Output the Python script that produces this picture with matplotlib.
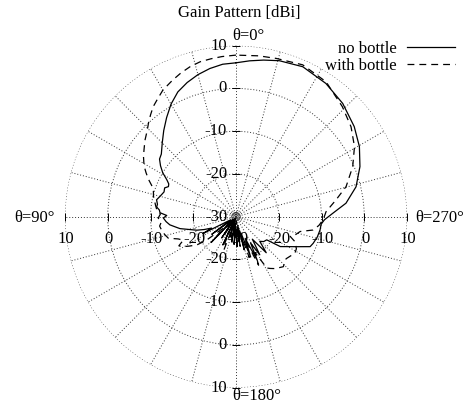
import numpy as np
import matplotlib
matplotlib.use("Agg")
import matplotlib.pyplot as plt
from matplotlib.transforms import offset_copy

plt.rcParams['font.family'] = ['Liberation Serif', 'DejaVu Serif']
plt.rcParams['font.size'] = 12

# ---- data (theta in degrees, counter-clockwise from top; gain in dBi) ----
theta_no = [0, 5, 10, 15, 20, 25, 30, 35, 40, 45, 50, 53, 56, 59, 62, 64, 66, 68, 71, 75,
            78, 81, 83, 85, 87, 89, 91, 94, 97, 100, 102, 105, 109, 112, 115, 117, 120,
            126, 130, 136, 139, 146, 150, 155, 158, 163, 166, 170, 173, 176, 179, 182,
            185, 188, 191, 194, 197, 200, 203, 206, 209, 212, 216, 220, 224, 228, 233,
            236, 240, 244, 248, 251, 256, 261, 265, 268, 272, 277, 284, 292, 299.6,
            307.3, 316.7, 326, 336, 344.5, 350, 355, 360]
gain_no = [6.0, 5.8, 5.2, 4.4, 3.4, 2.2, 0.4, -1.7, -3.7, -5.6, -7.2, -7.6, -8.7, -10.0,
           -11.7, -12.5, -12.7, -12.0, -12.2, -11.6, -11.0, -11.4, -11.3, -12.0, -12.2,
           -13.8, -13.0, -13.6, -14.4, -15.8, -16.6, -18.5, -20.3, -22.0, -23.7, -21.3,
           -28.5, -23.0, -29.0, -21.6, -29.0, -24.0, -29.5, -22.7, -29.0, -25.0, -29.5,
           -24.0, -28.0, -23.5, -27.0, -23.0, -27.5, -24.0, -28.0, -22.0, -26.0, -20.0,
           -24.5, -18.6, -23.0, -19.5, -23.5, -19.0, -22.0, -21.3, -21.0, -17.5, -16.0,
           -14.0, -11.3, -10.9, -10.4, -10.1, -10.0, -9.3, -7.36, -4.08, -1.06, 1.27,
           3.2, 4.77, 6.4, 7.6, 8.4, 7.87, 7.2, 6.6, 6.0]

theta_with = [0, 5, 9, 13, 17, 21, 25, 30, 34, 37, 40, 43, 46, 50, 54, 57, 61, 64, 67, 70,
              73, 76, 79, 82, 85, 88, 91, 94, 97, 100, 104, 107.7, 111, 114, 117, 119, 122,
              125.8, 128.5, 132, 136, 141, 147, 152, 157, 160, 163, 168, 173, 178, 183,
              188, 193, 198, 202, 205, 208, 211, 213.4, 217, 223.4, 230, 238.2, 242, 247,
              250, 253, 257, 260.2, 264, 268, 273.2, 279.5, 285.3, 293.2, 300.6, 308, 316,
              326.3, 336.3, 345.8, 352, 360]
gain_with = [7.8, 7.6, 7.4, 7.2, 6.7, 6.0, 5.2, 4.2, 3.0, 2.2, 1.1, 0.0, -1.1, -2.2, -3.4,
             -4.2, -5.4, -6.6, -7.8, -9.1, -9.8, -10.1, -10.6, -11.0, -11.4, -12.3, -11.8,
             -12.5, -12.0, -12.3, -12.8, -13.4, -15.5, -16.5, -15.0, -15.5, -17.0, -18.7,
             -21.2, -26.0, -23.0, -28.5, -25.0, -29.0, -23.5, -21.8, -28.0, -25.0, -29.0,
             -25.5, -29.0, -23.0, -27.0, -20.0, -24.0, -17.5, -20.5, -16.0, -15.5, -14.8,
             -13.9, -14.7, -13.8, -14.0, -15.0, -16.5, -15.5, -14.6, -11.7, -10.5, -9.6,
             -8.9, -6.3, -3.3, -0.3, 2.2, 4.15, 5.8, 7.95, 8.8, 8.2, 8.0, 7.8]

ring_values = [-20, -10, 0, 10]
ring_labels = ['-20', '-10', '0', '10']
spoke_step = 15

# ---- figure ----
W, H = 469, 409
fig = plt.figure(figsize=(W / 100, H / 100), dpi=100)
cx, cy, R = 236, 216.7, 171
ax = fig.add_axes([(cx - R) / W, (H - cy - R) / H, 2 * R / W, 2 * R / H], projection='polar')
ax.set_theta_zero_location('N')
ax.set_theta_direction(1)
ax.set_rlim(-30, 10)
ax.spines['polar'].set_visible(False)
ax.set_thetagrids(np.arange(0, 360, spoke_step), labels=[])
ax.set_rgrids(ring_values, labels=[])
ax.grid(True, color='#333333', linestyle=(0, (1, 2)), linewidth=0.7)
ax.tick_params(pad=0)

# tiny circles at center
tt = np.linspace(0, 2 * np.pi, 60)
for rr in (-29.5, -29.0):
    ax.plot(tt, np.full_like(tt, rr), color='#333333', lw=0.6)

l1, = ax.plot(np.deg2rad(theta_no), gain_no, color='black', lw=0.9, label='no bottle')
l2, = ax.plot(np.deg2rad(theta_with), gain_with, color='black', lw=0.9,
              linestyle=(0, (5.5, 4)), label='with bottle')

# axis tick marks
for th in (0, np.pi):
    ax.plot([th] * len(ring_values), ring_values, ls='none', marker='_', ms=6,
            color='black', mew=0.7, clip_on=False)
for th in (np.pi / 2, 3 * np.pi / 2):
    ax.plot([th] * len(ring_values), ring_values, ls='none', marker='|', ms=6,
            color='black', mew=0.7, clip_on=False)

fs = 12
# vertical axis labels (left of axis)
tl = offset_copy(ax.transData, fig=fig, x=-9 * 0.72, y=0, units='points')
for v, s in zip(ring_values, ring_labels):
    ax.text(0, v, s, transform=tl, ha='right', va='center', fontsize=fs)
    ax.text(np.pi, v, s, transform=tl, ha='right', va='center', fontsize=fs)
ax.text(0, -30, '-30', transform=tl, ha='right', va='center', fontsize=fs)
# horizontal axis labels (below axis)
tb = offset_copy(ax.transData, fig=fig, x=1 * 0.72, y=-22 * 0.72, units='points')
for v, s in zip(ring_values, ring_labels):
    ax.text(np.pi / 2, v, s, transform=tb, ha='center', va='center', fontsize=fs)
    ax.text(3 * np.pi / 2, v, s, transform=tb, ha='center', va='center', fontsize=fs)
ax.text(np.pi / 2, -30, '-30', transform=tb, ha='center', va='center', fontsize=fs)

# angle labels
fig.text(232 / W, 1 - 36 / H, 'θ=0°', ha='left', va='center', fontsize=fs)
fig.text(232 / W, 1 - 396 / H, 'θ=180°', ha='left', va='center', fontsize=fs)
fig.text(55 / W, 1 - 218 / H, 'θ=90°', ha='right', va='center', fontsize=fs)
fig.text(415 / W, 1 - 218 / H, 'θ=270°', ha='left', va='center', fontsize=fs)

fig.text(239 / W, 1 - 13 / H, 'Gain Pattern [dBi]', ha='center', va='center', fontsize=fs)

fig.legend(handles=[l1, l2], loc='upper right', bbox_to_anchor=(455 / W, 1 - 41 / H),
           frameon=False, markerfirst=False, fontsize=fs, handlelength=2.9,
           handletextpad=0.6, labelspacing=0.05, borderpad=0, borderaxespad=0)

fig.savefig('out.png', dpi=100)
